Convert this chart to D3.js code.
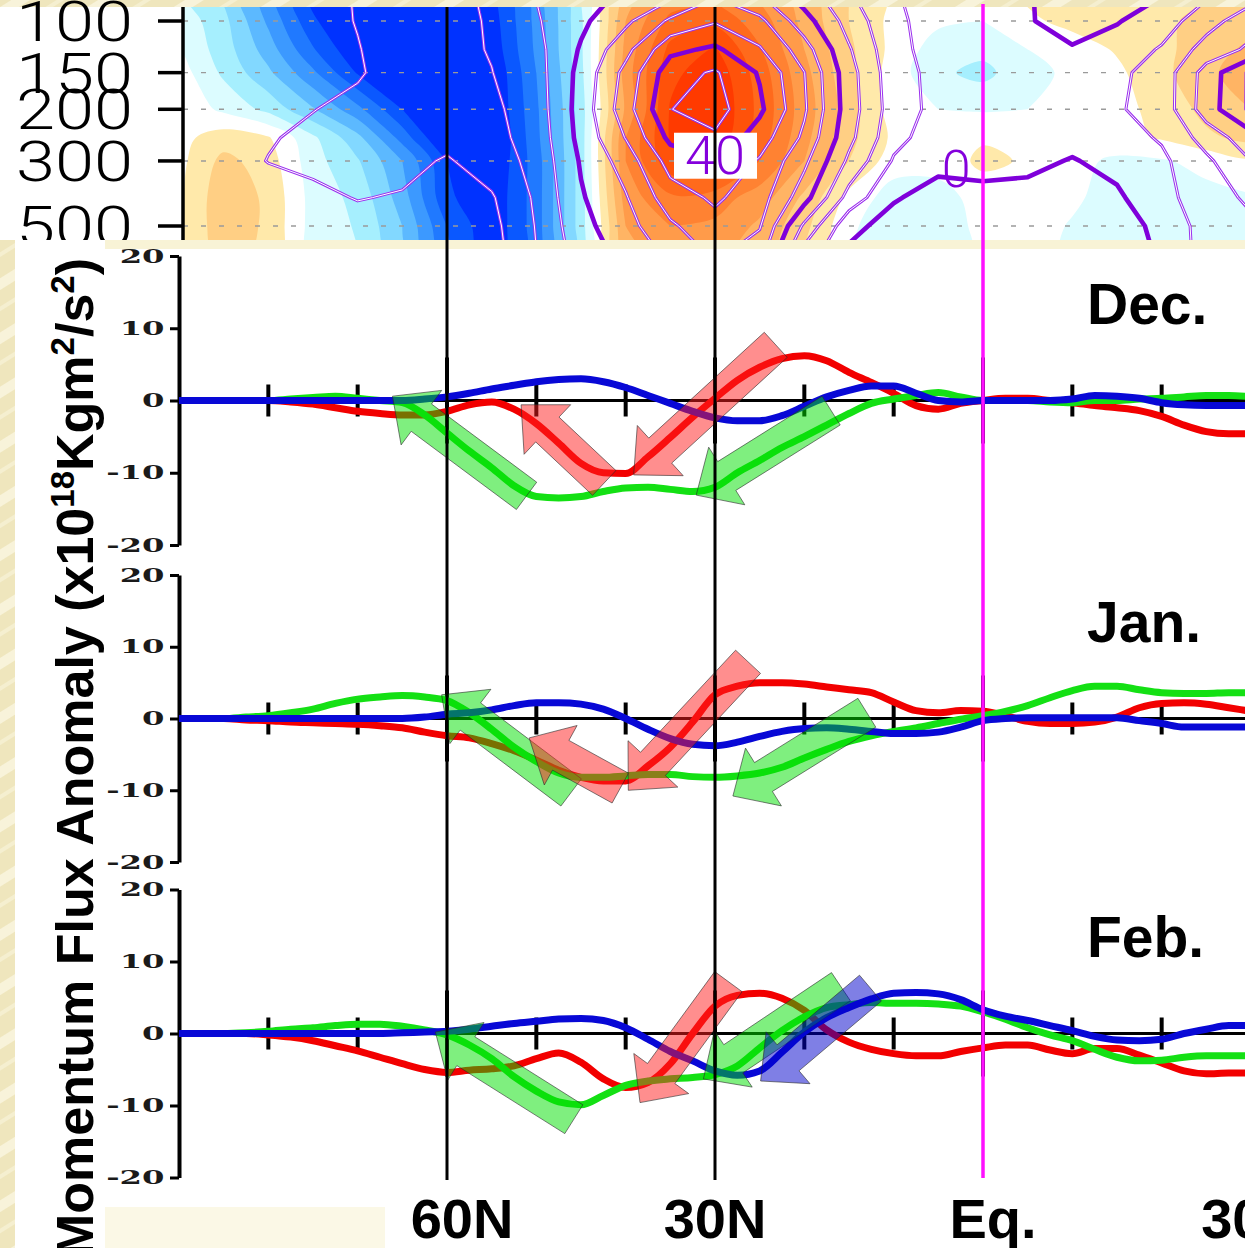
<!DOCTYPE html>
<html>
<head>
<meta charset="utf-8">
<script src="https://cdn.jsdelivr.net/npm/d3@7"></script>
<style>
  html, body { margin: 0; padding: 0; background: #f1e9c2; }
  svg { display: block; }
</style>
</head>
<body>
<svg id="chart" width="1245" height="1248"></svg>
<script>
// ---------------- momentum flux anomaly curves (10^18 kg m^2 s^-2) ----------------
const lats = [90, 87.5, 85, 82.5, 80, 77.5, 75, 72.5, 70, 67.5, 65, 62.5, 60, 57.5, 55, 52.5, 50, 47.5, 45, 42.5,
  40, 37.5, 35, 32.5, 30, 27.5, 25, 22.5, 20, 17.5, 15, 12.5, 10, 7.5, 5, 2.5, 0, -2.5, -5, -7.5,
  -10, -12.5, -15, -17.5, -20, -22.5, -25, -27.5, -30];

const decRed = [0, 0, 0, 0, 0, -0.2, -0.5, -1, -1.5, -1.8, -2, -2, -1.5, -0.6, -0.2, -1.2, -3.2, -5.9, -8.7, -10,
  -10.1, -7.8, -5.1, -2.3, 0.3, 2.8, 4.6, 5.8, 6.2, 5.5, 3.9, 2.5, 1, -0.7, -1.2, -0.4, 0, 0.3, 0.3, 0,
  -0.3, -0.7, -1, -1.4, -2.2, -3.4, -4.3, -4.6, -4.6];
const decGreen = [0, 0, 0, 0, 0, 0.2, 0.4, 0.6, 0.3, 0, -0.3, -2, -4.5, -7, -9.3, -11.8, -13.3, -13.5, -13.3, -12.6,
  -12.1, -12, -12.3, -12.6, -12, -10, -8.3, -6.5, -5, -3.4, -1.8, -0.4, 0.2, 0.7, 1.1, 0.5, 0, 0, 0, -0.2,
  -0.3, 0, 0, 0.2, 0.3, 0.5, 0.7, 0.7, 0.5];
const decBlue = [0, 0, 0, 0, 0, 0, 0, 0, 0, 0, 0, 0.2, 0.5, 1, 1.6, 2.1, 2.6, 2.9, 3, 2.6,
  1.8, 0.7, -0.4, -1.5, -2.4, -2.8, -2.8, -2.1, -0.8, 0.5, 1.4, 2, 2, 1, 0, -0.2, 0, 0, 0, 0,
  0.2, 0.7, 0.6, 0.3, -0.3, -0.6, -0.7, -0.7, -0.7];

const janRed = [0, 0, 0, -0.2, -0.3, -0.5, -0.6, -0.7, -0.8, -1, -1.3, -1.9, -2.4, -2.7, -3.5, -4.5, -5.8, -7.2, -8.2, -8.7,
  -8.7, -6.6, -4, -0.5, 3.3, 4.5, 5, 5, 4.8, 4.4, 4, 3.6, 2.3, 1.1, 0.8, 1.1, 1, 0.4, -0.4, -0.7,
  -0.7, -0.5, 0.2, 1.5, 2.1, 2.2, 2, 1.5, 1];
const janGreen = [0, 0, 0, 0.2, 0.4, 0.8, 1.3, 2.1, 2.7, 3, 3.2, 3, 2.5, 0.8, -1.5, -4, -6, -7.6, -8.2, -8.2,
  -8, -7.8, -7.8, -8.1, -8.2, -8, -7.6, -6.8, -5.5, -4.3, -3.2, -2.4, -1.8, -1.3, -0.7, -0.1, 0.4, 1, 1.8, 2.9,
  3.9, 4.5, 4.5, 4, 3.6, 3.5, 3.5, 3.6, 3.6];
const janBlue = [0, 0, 0, 0, 0, 0, 0, 0, 0, 0, 0, 0.2, 0.6, 0.8, 1.2, 1.8, 2.2, 2.2, 2, 1.3,
  0, -1.5, -2.8, -3.6, -3.8, -3.3, -2.5, -1.8, -1.4, -1.3, -1.5, -1.8, -2.1, -2.1, -1.9, -1.2, -0.3, 0, 0.1, 0.1,
  0.1, 0.1, 0.1, -0.3, -0.7, -1.2, -1.2, -1.2, -1.2];

const febRed = [0, 0, 0, 0, -0.2, -0.5, -1, -1.7, -2.4, -3.3, -4.2, -5, -5.4, -5.1, -4.9, -4.5, -3.5, -2.7, -4, -6.3,
  -7.5, -6.8, -4.2, 0, 3.8, 5.3, 5.6, 4.9, 3.2, 0.5, -1.2, -2.2, -2.8, -3.1, -3.1, -2.5, -2, -1.6, -1.6, -2.3,
  -2.8, -2.1, -2.1, -3, -4.1, -5.2, -5.6, -5.5, -5.5];
const febGreen = [0, 0, 0, 0.1, 0.3, 0.6, 0.8, 1.1, 1.3, 1.3, 1, 0.5, -0.2, -1.6, -3.5, -6, -8, -9.5, -9.9, -8.6,
  -7.2, -6.6, -6.3, -6.1, -5.7, -4.5, -2, 0.4, 2.3, 3.6, 4, 4.3, 4.2, 4.2, 4.1, 3.8, 3, 2, 0.8, -0.2,
  -1, -2.2, -3.3, -3.8, -3.7, -3.3, -3.1, -3.1, -3.1];
const febBlue = [0, 0, 0, 0, 0, 0, 0, 0, 0, 0, 0.1, 0.2, 0.3, 0.6, 1, 1.4, 1.7, 2, 2.1, 1.8,
  0.8, -0.8, -2.5, -3.8, -5.2, -5.8, -5.2, -2.6, 0.2, 2.2, 3.6, 4.8, 5.6, 5.7, 5.5, 4.7, 3.3, 2.4, 1.8, 1.1,
  0.4, -0.4, -0.9, -1, -0.8, 0, 0.6, 1.1, 1.1];

// shift arrows: [tail latitude, tail value] -> [head latitude, head value]
const decArrows = [
  { hue: "green", from: [51.1, -13.2], to: [66.1, 0.6] },
  { hue: "red", from: [42.4, -11.4], to: [51.7, -0.6] },
  { hue: "red", from: [23.2, 7.7], to: [39.1, -10.3] },
  { hue: "green", from: [17.0, -1.4], to: [32.1, -13.1] }
];
const janArrows = [
  { hue: "green", from: [46.1, -10.3], to: [60.6, 3.3] },
  { hue: "red", from: [40.6, -9.7], to: [50.8, -2.7] },
  { hue: "red", from: [26.3, 7.9], to: [39.7, -10.0] },
  { hue: "green", from: [13.0, 0.8], to: [28.0, -10.8] }
];
const febArrows = [
  { hue: "green", from: [45.8, -11.9], to: [61.3, 0.2] },
  { hue: "red", from: [28.5, 7.2], to: [38.4, -9.6] },
  { hue: "green", from: [15.9, 6.5], to: [31.3, -6.3] },
  { hue: "blue", from: [12.6, 6.3], to: [24.9, -6.6] }
];

const monthLabels = ["Dec.", "Jan.", "Feb."];
const valueTicks = [-20, -10, 0, 10, 20];
const minorLatTicks = [80, 70, 50, 40, 20, 10, -10, -20];
const majorLatTicks = [60, 30, 0];
const latLabels = ["60N", "30N", "Eq.", "30S"];
const latLabelPos = [60, 30, 0, -30];

// ---------------- zonal wind cross-section (latitude x pressure) ----------------
const fieldLats = [90, 85, 80, 75, 70, 65, 60, 55, 50, 45, 40, 35, 30, 25, 20, 15, 10, 5, 0, -5, -10, -15, -20, -25, -30];
const fieldLevels = [85, 100, 125, 150, 200, 250, 300, 400, 500, 600];
// anomaly (shaded, one unit per colour step)
const anomRows = [
  [-1.2, -2.6, -5, -7.8, -9, -9.5, -9.5, -7.8, -5, -1.5, 3, 5, 5.5, 4.5, 3, 1.5, 0.3, 0, 0, 0.6, 1, 1.1, 1.3, 1.5, 1.6],
  [-0.8, -2.2, -4.7, -7.3, -9, -9.5, -9.5, -8, -5.2, -1.7, 3.5, 5.8, 6.2, 5, 3.2, 1.5, 0.2, -0.3, -0.5, 0.3, 0.8, 1, 1.3, 1.8, 2],
  [-0.5, -2, -4, -6.4, -8.4, -9.3, -9.5, -8.2, -5.3, -1.7, 3.8, 6.8, 7.6, 5.6, 3.5, 1.7, 0.2, -1, -1.2, -0.5, 0, 0.6, 1.2, 2.1, 2.7],
  [0, -1.7, -3.3, -5.3, -7.6, -9, -9.5, -8.5, -5.5, -1.8, 4, 7.2, 8.2, 6, 3.8, 1.8, 0, -1.3, -1.8, -0.8, -0.3, 0.3, 1.2, 2.3, 3],
  [0.2, -0.7, -1.8, -3.4, -5.2, -7.5, -9, -8.6, -5.7, -2, 3.7, 7.6, 8.5, 6.2, 4, 2, 0, -0.5, -0.6, -0.5, 0, 0.2, 0.8, 1.8, 2.5],
  [0.2, 1, 0.6, -1.3, -3.2, -5.9, -8.8, -8.8, -5.8, -2, 4.5, 7.6, 8.3, 6, 3.8, 1.8, 0.3, 0, 0.4, 0.3, 0, 0.2, 0.6, 1.3, 1.8],
  [0.2, 1.8, 1, -1.1, -2.4, -4.5, -7.5, -8.5, -6, -2, 4.5, 7.2, 7.6, 5.5, 3.5, 1.5, 0, 0, 0.7, 0.4, -0.2, -0.7, -0.6, -0.2, 0.3],
  [0.3, 2.2, 1.3, -0.9, -1.8, -4, -7.3, -8.3, -6, -2, 4, 5.3, 5, 4, 2.3, 0.2, -1, -1, 0, 0, -0.3, -1, -1, -0.8, -0.6],
  [0.3, 2.2, 1.3, -0.9, -1.6, -3.5, -6.5, -8.3, -6, -2, 3.5, 4.5, 4.3, 3.3, 1.8, -0.3, -1.2, -1.1, -0.2, 0, -0.6, -1.2, -1.2, -1, -0.8],
  [0.3, 2, 1.2, -0.9, -1.5, -3.2, -6.2, -8.2, -6, -2, 3.2, 4, 3.8, 3, 1.5, -0.4, -1.2, -1.1, -0.3, 0, -0.7, -1.2, -1.2, -1, -0.8]
];
// climatological zonal wind (m/s), drawn as contour lines
const climRows = [
  [2, 2.5, 3, 3.2, 5.3, 7.5, 9, 10.5, 15, 18.3, 21.1, 25, 30.6, 26.3, 18.4, 11, 5.5, 3, 1.5, 0.5, -3, -2, 0.3, 5, 9],
  [2, 2.5, 3, 3.3, 5.2, 7.5, 9, 10.3, 14.5, 19, 23.9, 30.9, 34.5, 31.3, 22, 13, 6, 3, 2, 0.5, -2.5, -0.3, 2.5, 8, 13],
  [2, 2.5, 3, 3.5, 4.8, 7.2, 8.5, 10.3, 13.5, 20.5, 28.4, 38.7, 40.9, 35.5, 27.3, 15.5, 6.5, 3, 3, 2, 0.5, 2, 5.5, 12, 16],
  [2, 2.5, 3.5, 3.8, 4.6, 6.8, 8, 9.9, 13, 21.5, 31.5, 43, 45.6, 39.5, 30.1, 17, 7, 3.5, 3.5, 3, 2.5, 4, 7, 17, 26],
  [2, 3, 4.2, 4.9, 6, 7, 7.5, 9, 12.5, 22, 32.8, 44.9, 46.9, 41, 30.7, 17.4, 7.5, 3.5, 3.5, 3, 3, 4.5, 7, 17.5, 26],
  [2, 3.5, 4.7, 5.8, 6.5, 7, 6.5, 8.5, 12, 21.5, 30.2, 41.3, 44.3, 37.4, 29, 16.4, 6.5, 2.5, 2.5, 2, 1.5, 3, 5.5, 12, 18],
  [2, 3.5, 5.1, 6, 6.5, 6.5, 4.5, 7.5, 11.5, 20.5, 27.2, 37, 39.25, 34.5, 26.2, 14, 4.5, 1.5, 1.5, 1.2, -0.3, 1.5, 4, 9, 15],
  [1.5, 2.5, 3.5, 4, 5.2, 4.6, 3.5, 4.5, 10.8, 19.5, 24.6, 32.7, 35.8, 32.3, 22, 8, 0.5, -2, -1.2, -1.5, -2.5, -0.8, 3.5, 7.5, 11],
  [1.5, 2, 2.5, 3, 3.5, 3.5, 3, 3.5, 10.3, 18.5, 23.1, 29.2, 33.4, 30.4, 14, 1.5, -2, -3, -2, -3, -4, -2.5, 1.5, 7, 9],
  [1.5, 2, 2.5, 3, 3, 3, 3, 3, 10, 17.5, 21.8, 26.5, 31.5, 27.9, 9, -0.5, -3, -3.5, -3, -4, -4.5, -3.5, 1, 7, 8]
];
const pressureTicks = [100, 150, 200, 300, 500];
const shadeSteps = [0.5, 1.5, 2.5, 3.5, 4.5, 5.5, 6.5, 7.5];
const lineLevels = [0, 5, 10, 15, 20, 25, 30, 35, 40, 45];
const thickLevels = [0, 20, 40];
const lineLabels = [{ text: "40", lat: 30, p: 288, boxed: true }, { text: "0", lat: 3, p: 322, boxed: false }];

// ---------------- drawing ----------------
const svg = d3.select("#chart");
const defs = svg.append("defs");

// slide paper texture
const paper = defs.append("pattern").attr("id", "paper").attr("patternUnits", "userSpaceOnUse")
  .attr("width", 46).attr("height", 46).attr("patternTransform", "rotate(-32)");
paper.append("rect").attr("width", 46).attr("height", 46).attr("fill", "#efe6bd");
paper.append("rect").attr("y", 6).attr("width", 46).attr("height", 10).attr("fill", "#f8f3da");
paper.append("rect").attr("y", 30).attr("width", 46).attr("height", 4).attr("fill", "#f5efd0");
svg.append("rect").attr("width", 1245).attr("height", 1248).attr("fill", "url(#paper)");

const x = d3.scaleLinear().domain([90, 0]).range([179, 983]);
const yP = d3.scaleLog().domain([100, 500]).range([21, 226]);

// ---- upper cross-section ----
const topG = svg.append("g");
topG.append("rect").attr("x", 0).attr("y", 7).attr("width", 1245).attr("height", 233).attr("fill", "#fff");
defs.append("clipPath").attr("id", "xsClip").append("rect")
  .attr("x", 183).attr("y", 7).attr("width", 1062).attr("height", 233);
const xs = topG.append("g").attr("clip-path", "url(#xsClip)");

const nc = fieldLats.length, nr = fieldLevels.length;
const logLev = fieldLevels.map(Math.log10);
function gridPoint([gx, gy]) {
  const ci = gx - 0.5, ri = gy - 0.5;
  const lat = fieldLats[0] + ci * (fieldLats[1] - fieldLats[0]);
  const k = Math.max(0, Math.min(nr - 2, Math.floor(ri)));
  const lp = logLev[k] + (logLev[k + 1] - logLev[k]) * (ri - k);
  return [x(lat), yP(Math.pow(10, lp))];
}
const contourer = d3.contours().size([nc, nr]);
const smoothRing = d3.line().curve(d3.curveCatmullRomClosed.alpha(0.5));
const bandPath = mp => mp.coordinates
  .map(poly => poly.map(ring => smoothRing(ring.slice(0, -1).map(gridPoint))).join("")).join("");
const outlinePath = mp => mp.coordinates
  .map(poly => poly.map(ring => "M" + ring.map(gridPoint).map(p => p[0].toFixed(1) + "," + p[1].toFixed(1)).join("L") + "Z").join(""))
  .join("");

const warm = ["#ffe9aa", "#ffcf84", "#ffb464", "#ff9b4a", "#ff8232", "#ff6a1c", "#ff520a", "#ff3a00"];
const cool = ["#dcfcff", "#a6effe", "#82d8ff", "#5cb9ff", "#3c99ff", "#2079ff", "#0a58ff", "#0032ff"];
const anomVals = anomRows.flat();
contourer.thresholds(shadeSteps)(anomVals).forEach((c, i) => {
  xs.append("path").attr("d", bandPath(c)).attr("fill", warm[i]).attr("fill-rule", "evenodd");
});
contourer.thresholds(shadeSteps)(anomVals.map(v => -v)).forEach((c, i) => {
  xs.append("path").attr("d", bandPath(c)).attr("fill", cool[i]).attr("fill-rule", "evenodd");
});

// dashed pressure grid
xs.selectAll("line.pgrid").data(pressureTicks).join("line")
  .attr("x1", 183).attr("x2", 1245).attr("y1", d => yP(d)).attr("y2", d => yP(d))
  .attr("stroke", "#9a9a9a").attr("stroke-width", 1.4).attr("stroke-dasharray", "5,13");

// climatology contours
const climVals = climRows.flat();
contourer.thresholds(lineLevels)(climVals).forEach(c => {
  const d = outlinePath(c);
  if (thickLevels.includes(c.value)) {
    xs.append("path").attr("d", d).attr("fill", "none").attr("stroke", "#7f00da")
      .attr("stroke-width", 4.6).attr("stroke-linejoin", "round");
  } else {
    xs.append("path").attr("d", d).attr("fill", "none").attr("stroke", "#9b30ee")
      .attr("stroke-width", 3).attr("stroke-linejoin", "round");
    xs.append("path").attr("d", d).attr("fill", "none").attr("stroke", "#ffffff")
      .attr("stroke-width", 1).attr("stroke-linejoin", "round");
  }
});
lineLabels.forEach(l => {
  const cx = x(l.lat), cy = yP(l.p);
  if (l.boxed) xs.append("rect").attr("x", cx - 41).attr("y", cy - 23).attr("width", 83).attr("height", 46).attr("fill", "#fff");
  xs.append("text").attr("x", cx).attr("y", cy).attr("text-anchor", "middle").attr("dominant-baseline", "central")
    .attr("font-family", "Roboto, 'DejaVu Sans', sans-serif").attr("font-weight", 300)
    .attr("font-size", l.boxed ? 54 : 52).attr("fill", "#8400dc").text(l.text);
});

// pressure axis
topG.append("line").attr("x1", 183).attr("x2", 183).attr("y1", 7).attr("y2", 240)
  .attr("stroke", "#000").attr("stroke-width", 3.5);
topG.selectAll("line.ptick").data(pressureTicks).join("line")
  .attr("x1", 158).attr("x2", 183).attr("y1", d => yP(d)).attr("y2", d => yP(d))
  .attr("stroke", "#000").attr("stroke-width", 3.5);
topG.selectAll("text.plabel").data(pressureTicks).join("text")
  .attr("x", 133).attr("y", d => yP(d) + 1).attr("text-anchor", "end").attr("dominant-baseline", "central")
  .attr("font-family", "Roboto, 'DejaVu Sans', sans-serif").attr("font-weight", 300).attr("font-size", 56)
  .attr("textLength", 117).attr("lengthAdjust", "spacingAndGlyphs").attr("fill", "#000")
  .text(d => d);

// ---- lower flux panels ----
svg.append("rect").attr("x", 15).attr("y", 240).attr("width", 1230).attr("height", 1008).attr("fill", "#fff");
svg.append("rect").attr("x", 105).attr("y", 240).attr("width", 1140).attr("height", 9).attr("fill", "#f8f3d6");
svg.append("rect").attr("x", 105).attr("y", 1207).attr("width", 280).attr("height", 41).attr("fill", "#fbf8e6");

const panelRanges = [[545, 256], [862, 575], [1177.5, 889.5]];
const panels = [
  { label: monthLabels[0], red: decRed, green: decGreen, blue: decBlue, arrows: decArrows },
  { label: monthLabels[1], red: janRed, green: janGreen, blue: janBlue, arrows: janArrows },
  { label: monthLabels[2], red: febRed, green: febGreen, blue: febBlue, arrows: febArrows }
];
const lineColor = { red: "#f20000", green: "#14e014", blue: "#0808d6" };
const arrowFill = { red: "#ff1e1e", green: "#00e000", blue: "#0000cc" };

function arrowPath(p0, p1) {
  const dx = p1[0] - p0[0], dy = p1[1] - p0[1];
  const len = Math.hypot(dx, dy), ux = dx / len, uy = dy / len, nx = -uy, ny = ux;
  const half = 17, head = 34, headLen = 36;
  const bx = p1[0] - ux * headLen, by = p1[1] - uy * headLen;
  const pts = [
    [p0[0] + nx * half, p0[1] + ny * half], [bx + nx * half, by + ny * half], [bx + nx * head, by + ny * head],
    p1, [bx - nx * head, by - ny * head], [bx - nx * half, by - ny * half], [p0[0] - nx * half, p0[1] - ny * half]
  ];
  return "M" + pts.map(p => p[0].toFixed(1) + "," + p[1].toFixed(1)).join("L") + "Z";
}

panels.forEach((p, i) => {
  const y = d3.scaleLinear().domain([-20, 20]).range(panelRanges[i]);
  const g = svg.append("g");

  // zero line with latitude ticks
  g.append("line").attr("x1", x(90)).attr("x2", 1245).attr("y1", y(0)).attr("y2", y(0))
    .attr("stroke", "#000").attr("stroke-width", 3);
  g.selectAll("line.minor").data(minorLatTicks).join("line")
    .attr("x1", d => x(d)).attr("x2", d => x(d)).attr("y1", y(0) - 16).attr("y2", y(0) + 16)
    .attr("stroke", "#000").attr("stroke-width", 4);
  g.selectAll("line.major").data(majorLatTicks).join("line")
    .attr("x1", d => x(d)).attr("x2", d => x(d)).attr("y1", y(0) - 43).attr("y2", y(0) + 43)
    .attr("stroke", "#000").attr("stroke-width", 4);

  // value axis
  const ax = g.append("g").attr("transform", `translate(${x(90)},0)`)
    .call(d3.axisLeft(y).tickValues(valueTicks).tickSize(9).tickSizeOuter(0).tickFormat(d => String(d)));
  ax.select(".domain").attr("stroke", "#000").attr("stroke-width", 4);
  ax.selectAll(".tick line").attr("stroke", "#000").attr("stroke-width", 3);
  ax.selectAll(".tick text").attr("x", -8.5).attr("transform", "scale(1.7,1)")
    .attr("font-family", "'DejaVu Serif', 'Liberation Serif', serif").attr("font-weight", "bold")
    .attr("font-size", 19).attr("fill", "#1a1a1a");

  // curves
  const curve = d3.line().x((d, k) => x(lats[k])).y(d => y(d)).curve(d3.curveMonotoneX);
  ["red", "green", "blue"].forEach(key => {
    g.append("path").attr("d", curve(p[key])).attr("fill", "none")
      .attr("stroke", lineColor[key]).attr("stroke-width", 7).attr("stroke-linejoin", "round");
  });

  // shift arrows
  p.arrows.forEach(a => {
    g.append("path").attr("d", arrowPath([x(a.from[0]), y(a.from[1])], [x(a.to[0]), y(a.to[1])]))
      .attr("fill", arrowFill[a.hue]).attr("fill-opacity", 0.5)
      .attr("stroke", "#2a2a2a").attr("stroke-opacity", 0.75).attr("stroke-width", 0.8);
  });

  g.append("text").attr("x", 1087).attr("y", y(0) - 77).attr("font-family", "'Liberation Sans', Arial, sans-serif")
    .attr("font-weight", "bold").attr("font-size", 57).attr("fill", "#000").text(p.label);
});

// reference latitudes
svg.selectAll("line.ref").data([60, 30]).join("line")
  .attr("x1", d => x(d)).attr("x2", d => x(d)).attr("y1", 7).attr("y2", 1180)
  .attr("stroke", "#000").attr("stroke-width", 3);
svg.append("line").attr("x1", x(0)).attr("x2", x(0)).attr("y1", 4).attr("y2", 1178)
  .attr("stroke", "#ff10ff").attr("stroke-width", 3.5);

// latitude labels
const labelShift = [15, 0, 10, 0];
svg.selectAll("text.latlab").data(latLabels).join("text")
  .attr("x", (d, k) => x(latLabelPos[k]) + labelShift[k]).attr("y", 1238).attr("text-anchor", "middle")
  .attr("font-family", "'Liberation Sans', Arial, sans-serif").attr("font-weight", "bold").attr("font-size", 56)
  .attr("fill", "#000").text(d => d);

// vertical axis title
const title = svg.append("text").attr("transform", "translate(93,258) rotate(-90)").attr("text-anchor", "end")
  .attr("font-family", "'Liberation Sans', Arial, sans-serif").attr("font-weight", "bold").attr("font-size", 52)
  .attr("fill", "#000");
title.append("tspan").text("Momentum Flux Anomaly (x10");
title.append("tspan").attr("dy", -19).attr("font-size", 33).text("18");
title.append("tspan").attr("dy", 19).text("Kgm");
title.append("tspan").attr("dy", -19).attr("font-size", 33).text("2");
title.append("tspan").attr("dy", 19).text("/s");
title.append("tspan").attr("dy", -19).attr("font-size", 33).text("2");
title.append("tspan").attr("dy", 19).text(")");
</script>
</body>
</html>
